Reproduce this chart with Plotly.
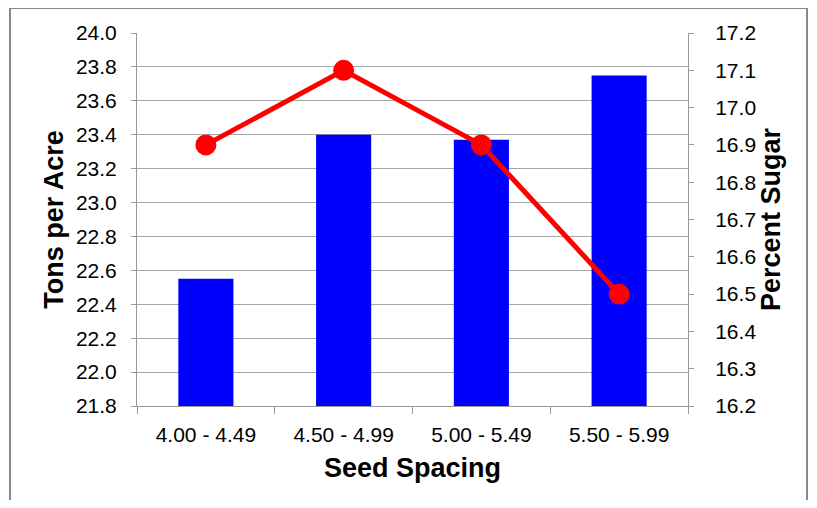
import plotly.graph_objects as go

categories = ["4.00 - 4.49", "4.50 - 4.99", "5.00 - 5.49", "5.50 - 5.99"]
tons_per_acre = [22.55, 23.40, 23.37, 23.75]
percent_sugar = [16.9, 17.1, 16.9, 16.5]

left_ticks = [21.8 + 0.2 * i for i in range(12)]
right_ticks = [16.2 + 0.1 * i for i in range(11)]

fig = go.Figure()
fig.add_trace(go.Bar(x=categories, y=tons_per_acre, marker=dict(color="#0000FF", line=dict(width=0)),
                     width=0.4, yaxis="y", name="Tons per Acre"))
fig.add_trace(go.Scatter(x=categories, y=percent_sugar, mode="lines+markers", yaxis="y2",
                         line=dict(color="#FF0000", width=5),
                         marker=dict(color="#FF0000", size=21), name="Percent Sugar"))

font = "Liberation Sans, Arial, sans-serif"
fig.update_layout(
    width=801, height=492,
    margin=dict(l=129, r=121, t=25, b=94),
    paper_bgcolor="white", plot_bgcolor="white",
    showlegend=False,
    font=dict(family=font, size=21, color="#000000"),
    xaxis=dict(
        title=dict(text="<b>Seed Spacing</b>", font=dict(size=27), standoff=12),
        showline=True, linecolor="#999999", linewidth=1,
        ticks="outside", tickson="boundaries", ticklen=7, tickcolor="#999999",
        showgrid=False, tickfont=dict(size=21), automargin=False, ticklabelstandoff=10,
    ),
    yaxis=dict(
        title=dict(text="<b>Tons per Acre</b>", font=dict(size=27), standoff=4),
        range=[21.8, 24.0], tickvals=left_ticks, ticktext=[f"{v:.1f}" for v in left_ticks],
        showline=True, linecolor="#999999", linewidth=1,
        ticks="outside", ticklen=5, tickcolor="#999999", automargin=False, ticklabelstandoff=10,
        showgrid=True, gridcolor="#A6A6A6", gridwidth=1, zeroline=False,
    ),
    yaxis2=dict(
        title=dict(text="<b>Percent Sugar</b>", font=dict(size=27), standoff=3),
        range=[16.2, 17.2], tickvals=right_ticks, ticktext=[f"{v:.1f}" for v in right_ticks],
        overlaying="y", side="right",
        showline=True, linecolor="#999999", linewidth=1,
        ticks="outside", ticklen=5, tickcolor="#999999", automargin=False, ticklabelstandoff=17,
        showgrid=False, zeroline=False,
    ),
    shapes=[dict(type="rect", xref="paper", yref="paper",
                 x0=-0.2305, x1=1.2160, y0=-0.3, y1=1.067,
                 line=dict(color="#888888", width=2), fillcolor="rgba(0,0,0,0)", layer="below")],
)

fig.write_html("out.html")
